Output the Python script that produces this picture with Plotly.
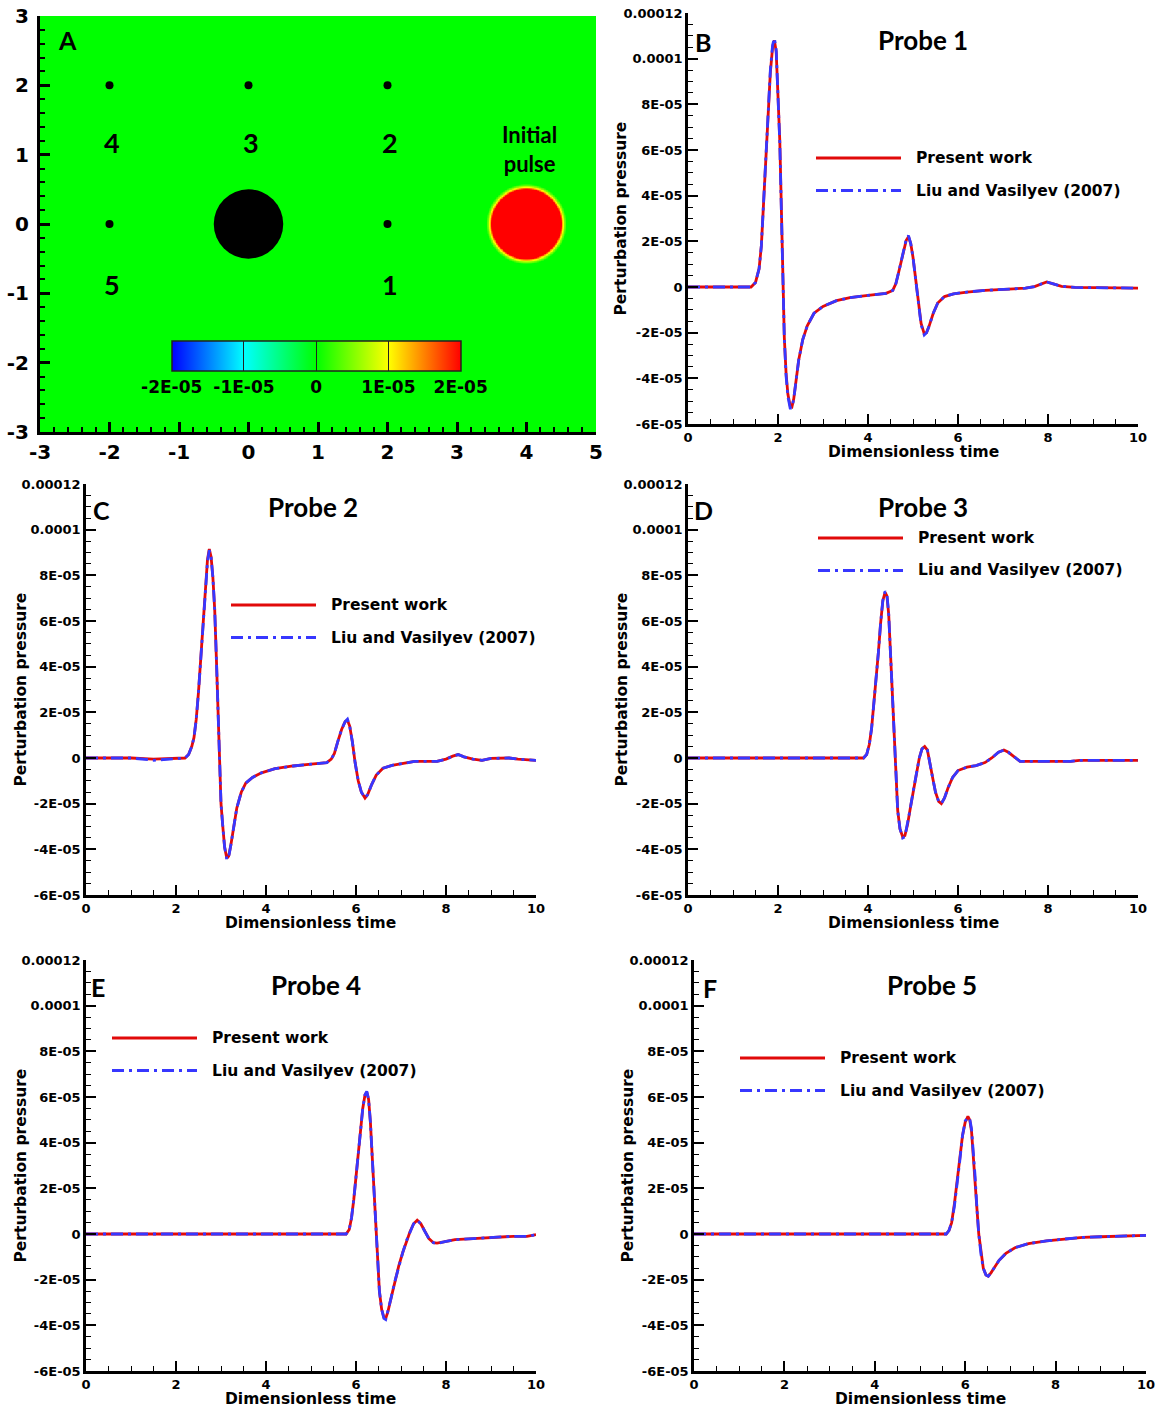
import numpy as np
import plotly.graph_objects as go

W, H = 1158, 1411

# ---------------- probe time histories (pressure in units of 1e-5) ----------------
P1_T = [0, 0.5, 1.0, 1.4, 1.5, 1.58, 1.63, 1.68, 1.73, 1.78, 1.83, 1.88, 1.92, 1.96, 2.0, 2.04,
        2.08, 2.11, 2.14, 2.18, 2.22, 2.27, 2.31, 2.35, 2.40, 2.46, 2.55, 2.65, 2.8, 3.0, 3.3,
        3.6, 4.0, 4.4, 4.55, 4.62, 4.7, 4.78, 4.85, 4.9, 4.95, 5.0, 5.06, 5.12, 5.18, 5.25, 5.3,
        5.36, 5.45, 5.55, 5.7, 5.9, 6.2, 6.6, 7.0, 7.5, 7.7, 7.85, 7.97, 8.1, 8.3, 8.6, 9.0, 10]
P1_PRESENT = [0, 0, -0.02, 0, 0.2, 0.8, 1.8, 3.6, 5.6, 7.6, 9.4, 10.5, 10.8, 10.3, 8.6, 6.4,
              3.0, 0, -2.2, -3.8, -4.7, -5.2, -5.25, -4.9, -4.1, -3.2, -2.3, -1.7, -1.15, -0.85, -0.6,
              -0.47, -0.37, -0.28, -0.15, 0.15, 0.8, 1.5, 2.05, 2.2, 1.9, 1.3, 0.3, -0.8, -1.6, -2.05, -2.0,
              -1.7, -1.15, -0.7, -0.42, -0.3, -0.22, -0.15, -0.1, -0.05, 0.02, 0.15, 0.22, 0.15, 0.03, -0.02, -0.03, -0.05]
P1_LIU = [0, 0, -0.03, 0, 0.2, 0.8, 1.8, 3.6, 5.7, 7.7, 9.5, 10.6, 10.9, 10.4, 8.6, 6.3,
          2.9, 0, -2.2, -3.9, -4.8, -5.3, -5.3, -4.9, -4.1, -3.2, -2.3, -1.7, -1.15, -0.85, -0.6,
          -0.47, -0.37, -0.28, -0.15, 0.15, 0.8, 1.5, 2.1, 2.25, 1.9, 1.3, 0.3, -0.8, -1.65, -2.1, -2.0,
          -1.7, -1.15, -0.7, -0.42, -0.3, -0.22, -0.15, -0.1, -0.05, 0.02, 0.15, 0.22, 0.15, 0.03, -0.02, -0.03, -0.05]

P2_T = [0, 1.0, 1.5, 2.0, 2.2, 2.28, 2.35, 2.4, 2.45, 2.5, 2.55, 2.6, 2.65, 2.7, 2.74, 2.78, 2.82,
        2.86, 2.9, 2.94, 2.97, 3.0, 3.04, 3.08, 3.13, 3.17, 3.22, 3.28, 3.35, 3.45, 3.55, 3.7, 3.9,
        4.2, 4.6, 5.0, 5.35, 5.45, 5.52, 5.6, 5.68, 5.76, 5.81, 5.86, 5.92, 5.98, 6.05, 6.12, 6.2,
        6.26, 6.35, 6.45, 6.6, 6.8, 7.0, 7.3, 7.8, 8.0, 8.15, 8.27, 8.4, 8.6, 8.8, 9.0, 9.4, 9.6, 10]
P2_PRESENT = [0, 0, -0.05, -0.03, 0, 0.15, 0.5, 0.9, 1.7, 2.9, 4.4, 5.9, 7.3, 8.7, 9.15, 8.8, 7.9,
              6.5, 4.2, 1.5, -0.5, -2.0, -3.0, -3.9, -4.4, -4.3, -3.8, -3.0, -2.2, -1.5, -1.1, -0.85, -0.65,
              -0.47, -0.35, -0.27, -0.2, -0.05, 0.2, 0.75, 1.25, 1.6, 1.65, 1.4, 0.7, -0.2, -1.0, -1.5, -1.75,
              -1.6, -1.15, -0.75, -0.45, -0.32, -0.25, -0.15, -0.15, -0.05, 0.08, 0.15, 0.05, -0.05, -0.1, -0.02, 0, -0.05, -0.1]
P2_LIU = [0, 0, -0.1, -0.05, 0, 0.15, 0.5, 0.9, 1.7, 2.9, 4.4, 5.9, 7.3, 8.6, 9.1, 8.8, 7.9,
          6.5, 4.2, 1.5, -0.5, -2.0, -3.0, -3.9, -4.45, -4.35, -3.8, -3.0, -2.2, -1.5, -1.1, -0.85, -0.65,
          -0.47, -0.35, -0.27, -0.2, -0.05, 0.2, 0.75, 1.25, 1.6, 1.7, 1.4, 0.7, -0.2, -1.0, -1.5, -1.75,
          -1.6, -1.15, -0.75, -0.45, -0.32, -0.25, -0.15, -0.15, -0.05, 0.08, 0.15, 0.05, -0.05, -0.1, -0.02, 0, -0.05, -0.1]

P3_T = [0, 3.0, 3.9, 3.97, 4.03, 4.08, 4.13, 4.18, 4.23, 4.28, 4.33, 4.38, 4.42, 4.46, 4.5, 4.54,
        4.58, 4.62, 4.66, 4.71, 4.77, 4.82, 4.88, 4.94, 5.0, 5.07, 5.14, 5.2, 5.26, 5.32, 5.38, 5.44,
        5.5, 5.57, 5.63, 5.7, 5.78, 5.88, 6.0, 6.2, 6.4, 6.6, 6.75, 6.9, 7.02, 7.12, 7.25, 7.38, 8.0,
        8.5, 8.7, 10]
P3_PRESENT = [0, 0, 0, 0.15, 0.6, 1.3, 2.3, 3.5, 4.6, 5.9, 6.9, 7.25, 7.1, 6.3, 4.6, 2.6,
              0.6, -1.2, -2.3, -3.1, -3.45, -3.4, -2.9, -2.2, -1.5, -0.7, 0.0, 0.4, 0.5, 0.35, -0.2, -0.9,
              -1.5, -1.9, -2.0, -1.75, -1.3, -0.85, -0.55, -0.4, -0.33, -0.2, 0.0, 0.25, 0.35, 0.25, 0.05, -0.15, -0.15,
              -0.15, -0.1, -0.1]
P3_LIU = [0, 0, 0, 0.15, 0.6, 1.3, 2.3, 3.5, 4.6, 5.9, 6.9, 7.3, 7.2, 6.3, 4.6, 2.6,
          0.6, -1.2, -2.3, -3.1, -3.5, -3.45, -2.9, -2.2, -1.5, -0.7, 0.0, 0.4, 0.5, 0.35, -0.2, -0.9,
          -1.5, -1.9, -2.0, -1.75, -1.3, -0.85, -0.55, -0.4, -0.33, -0.2, 0.0, 0.25, 0.35, 0.25, 0.05, -0.15, -0.15,
          -0.15, -0.1, -0.1]

P4_T = [0, 5.0, 5.78, 5.85, 5.9, 5.95, 6.0, 6.05, 6.1, 6.15, 6.2, 6.24, 6.28, 6.32, 6.36, 6.4,
        6.44, 6.48, 6.52, 6.57, 6.62, 6.66, 6.71, 6.78, 6.86, 6.95, 7.04, 7.12, 7.2, 7.28, 7.36, 7.44,
        7.52, 7.62, 7.72, 7.8, 7.95, 8.2, 8.6, 9.0, 9.5, 9.8, 10]
P4_PRESENT = [0, 0, 0, 0.2, 0.7, 1.5, 2.5, 3.5, 4.5, 5.5, 6.1, 6.2, 5.9, 4.9, 3.4, 1.9,
              0.3, -1.2, -2.5, -3.3, -3.65, -3.7, -3.4, -2.8, -2.1, -1.4, -0.8, -0.3, 0.1, 0.45, 0.6, 0.45,
              0.15, -0.2, -0.38, -0.4, -0.35, -0.25, -0.2, -0.15, -0.1, -0.1, -0.03]
P4_LIU = [0, 0, 0, 0.2, 0.7, 1.5, 2.5, 3.5, 4.5, 5.5, 6.1, 6.25, 5.9, 4.9, 3.4, 1.9,
          0.3, -1.2, -2.5, -3.3, -3.7, -3.75, -3.4, -2.8, -2.1, -1.4, -0.8, -0.3, 0.1, 0.45, 0.6, 0.45,
          0.15, -0.2, -0.38, -0.42, -0.35, -0.25, -0.2, -0.15, -0.1, -0.1, -0.03]

P5_T = [0, 5.0, 5.58, 5.64, 5.7, 5.76, 5.82, 5.88, 5.94, 6.0, 6.06, 6.1, 6.14, 6.18, 6.22, 6.26,
        6.3, 6.35, 6.4, 6.46, 6.51, 6.57, 6.65, 6.75, 6.9, 7.1, 7.4, 7.8, 8.2, 8.6, 9.0, 9.5, 10]
P5_PRESENT = [0, 0, 0, 0.15, 0.5, 1.3, 2.2, 3.3, 4.3, 4.9, 5.15, 5.0, 4.5, 3.5, 2.4, 1.1,
              0.0, -0.9, -1.5, -1.8, -1.85, -1.7, -1.45, -1.15, -0.85, -0.6, -0.42, -0.3, -0.22, -0.15, -0.12, -0.1, -0.06]
P5_LIU = [0, 0, 0, 0.15, 0.5, 1.2, 2.1, 3.2, 4.3, 4.95, 5.1, 5.05, 4.6, 3.7, 2.5, 1.1,
          0.0, -0.9, -1.5, -1.8, -1.85, -1.7, -1.45, -1.15, -0.85, -0.6, -0.42, -0.3, -0.22, -0.15, -0.12, -0.1, -0.06]

PRESSURE_UNIT = 1e-5
PROBES = [
    ("Probe 1", "B", P1_T, P1_PRESENT, P1_LIU),
    ("Probe 2", "C", P2_T, P2_PRESENT, P2_LIU),
    ("Probe 3", "D", P3_T, P3_PRESENT, P3_LIU),
    ("Probe 4", "E", P4_T, P4_PRESENT, P4_LIU),
    ("Probe 5", "F", P5_T, P5_PRESENT, P5_LIU),
]
SERIES_NAMES = ["Present work", "Liu and Vasilyev (2007)"]

Y_TICKVALS = [-6e-5, -4e-5, -2e-5, 0, 2e-5, 4e-5, 6e-5, 8e-5, 1e-4, 1.2e-4]
Y_TICKTEXT = ["-6E-05", "-4E-05", "-2E-05", "0", "2E-05", "4E-05", "6E-05", "8E-05", "0.0001", "0.00012"]
X_TICKVALS = [0, 2, 4, 6, 8, 10]

# ---------------- computational domain (panel A) ----------------
DOMAIN_X_TICKS = [-3, -2, -1, 0, 1, 2, 3, 4, 5]
DOMAIN_Y_TICKS = [-3, -2, -1, 0, 1, 2, 3]
PROBE_X = [2, 2, 0, -2, -2]
PROBE_Y = [0, 2, 2, 2, 0]
PROBE_LABELS = ["1", "2", "3", "4", "5"]
PROBE_LABEL_X = [2.04, 2.04, 0.03, -1.96, -1.96]
PROBE_LABEL_Y = [-0.87, 1.17, 1.17, 1.17, -0.87]
CYLINDER_CENTER = (0.0, 0.0)
CYLINDER_RADIUS = 0.5
PULSE_CENTER = (4.0, 0.0)
# radial pressure profile of the initial pulse
PULSE_R = [0.0, 0.47, 0.50, 0.52, 0.545, 0.58, 1.0]
PULSE_P = [2.6e-5, 2.4e-5, 2.0e-5, 1.3e-5, 0.6e-5, 0.0, 0.0]
CBAR_TICKVALS = [-2e-5, -1e-5, 0, 1e-5, 2e-5]
CBAR_TICKTEXT = ["-2E-05", "-1E-05", "0", "1E-05", "2E-05"]

RAINBOW = [[0.0, "rgb(0,0,255)"], [0.25, "rgb(0,255,255)"], [0.5, "rgb(0,255,0)"],
           [0.75, "rgb(255,255,0)"], [1.0, "rgb(255,0,0)"]]

RED = "rgb(225,10,10)"
BLUE = "rgb(55,55,255)"
DASHDOT = "12px,5px,3px,5px"
NUM_FONT = "DejaVu Sans"
LABEL_FONT = "Lato"


def fx(px):
    return px / W


def fy(py):
    return 1 - py / H


def note(x, y, text, size, family=NUM_FONT, xanchor="center", **kw):
    return dict(x=x, y=y, xref=kw.pop("xref", "paper"), yref=kw.pop("yref", "paper"), text=text,
                showarrow=False, xanchor=xanchor, yanchor="middle",
                font=dict(family=family, size=size, color="black", weight="bold"), **kw)


fig = go.Figure()

# ---- panel A: pressure field with cylinder, probes and initial pulse ----
fig.add_trace(go.Heatmap(
    x=[-3, 5], y=[-3, 3], z=[[0, 0], [0, 0]],
    colorscale=RAINBOW, zmin=-2e-5, zmax=2e-5, hoverinfo="skip",
    xaxis="x", yaxis="y",
    colorbar=dict(
        orientation="h", x=fx(316.2), xanchor="center", xref="paper",
        y=fy(340.7), yanchor="top", yref="paper",
        len=289, lenmode="pixels", thickness=30, thicknessmode="pixels",
        xpad=0, ypad=0, outlinecolor="#222222", outlinewidth=1.5,
        tickmode="array", tickvals=CBAR_TICKVALS, ticktext=CBAR_TICKTEXT,
        ticks="inside", ticklen=30, tickwidth=1, tickcolor="#222222",
        tickfont=dict(family=NUM_FONT, size=17, color="black", weight="bold"),
    ),
))

gx = np.round(np.arange(3.3, 4.7001, 0.01), 3)
gy = np.round(np.arange(-0.7, 0.7001, 0.01), 3)
GX, GY = np.meshgrid(gx, gy)
radius = np.hypot(GX - PULSE_CENTER[0], GY - PULSE_CENTER[1])
field = np.interp(radius, PULSE_R, PULSE_P)
fig.add_trace(go.Heatmap(
    x=gx, y=gy, z=field, colorscale=RAINBOW, zmin=-2e-5, zmax=2e-5,
    showscale=False, hoverinfo="skip", xaxis="x", yaxis="y",
))

fig.add_shape(type="circle", xref="x", yref="y",
              x0=CYLINDER_CENTER[0] - CYLINDER_RADIUS, x1=CYLINDER_CENTER[0] + CYLINDER_RADIUS,
              y0=CYLINDER_CENTER[1] - CYLINDER_RADIUS, y1=CYLINDER_CENTER[1] + CYLINDER_RADIUS,
              fillcolor="black", line=dict(width=0))

fig.add_trace(go.Scatter(
    x=PROBE_X, y=PROBE_Y, mode="markers", marker=dict(color="black", size=8),
    showlegend=False, hoverinfo="skip", xaxis="x", yaxis="y",
))

annotations = []
for lab, lx, ly in zip(PROBE_LABELS, PROBE_LABEL_X, PROBE_LABEL_Y):
    annotations.append(note(lx, ly, lab, 27, LABEL_FONT, xref="x", yref="y"))
annotations.append(note(PULSE_CENTER[0] + 0.05, 1.08, "Initial<br>pulse", 22, LABEL_FONT, xref="x", yref="y"))
annotations.append(note(fx(67), fy(40), "A", 25, LABEL_FONT))

layout = dict(
    width=W, height=H, margin=dict(l=0, r=0, t=0, b=0, pad=0, autoexpand=False),
    paper_bgcolor="white", plot_bgcolor="white", showlegend=False,
)

axis_a = dict(
    showline=True, linecolor="black", linewidth=3, zeroline=False, showgrid=False,
    ticks="inside", ticklen=10, tickwidth=2.5, tickcolor="black",
    minor=dict(tickmode="linear", tick0=-3, dtick=0.2, ticks="inside", ticklen=5, tickwidth=1.5, tickcolor="black"),
    tickfont=dict(family=NUM_FONT, size=20, color="black", weight="bold"),
)
layout["xaxis"] = dict(axis_a, domain=[fx(40), fx(596)], range=[-3, 5], anchor="y",
                       tickmode="array", tickvals=DOMAIN_X_TICKS, ticktext=[str(v) for v in DOMAIN_X_TICKS],
                       ticklabelstandoff=0)
layout["yaxis"] = dict(axis_a, domain=[fy(432), fy(16)], range=[-3, 3], anchor="x",
                       tickmode="array", tickvals=DOMAIN_Y_TICKS, ticktext=[str(v) for v in DOMAIN_Y_TICKS],
                       ticklabelstandoff=4)

# ---- panels B-F: probe histories ----
# plot-area boxes (left, right, top, bottom) in pixels
BOXES = [(688, 1138, 13, 424), (86, 536, 484, 895), (688, 1138, 484, 895),
         (86, 536, 960, 1371), (694, 1146, 960, 1371)]
# legend anchor (line start x, first row y) and title centre / letter position in pixels
LEGEND_POS = [(816, 158), (231, 605), (818, 538), (112, 1038), (740, 1058)]
TITLE_POS = [(923, 40), (313, 507), (923, 507), (316, 985), (932, 985)]
LETTER_POS = [(703, 42), (101, 510), (703, 510), (98, 987), (710, 988)]
YTITLE_X = [621, 20, 621, 20, 627]

minor_y = [v * 1e-6 for v in range(-60, 121, 5)]
minor_x = [v / 2 for v in range(0, 21)]

for i, (title, letter, t, present, liu) in enumerate(PROBES):
    k = i + 2
    xa, ya = f"x{k}", f"y{k}"
    left, right, top, bottom = BOXES[i]
    fig.add_trace(go.Scatter(
        x=t, y=np.array(present) * PRESSURE_UNIT, mode="lines", name=SERIES_NAMES[0],
        line=dict(color=RED, width=2.8), xaxis=xa, yaxis=ya, showlegend=False,
    ))
    fig.add_trace(go.Scatter(
        x=t, y=np.array(liu) * PRESSURE_UNIT, mode="lines", name=SERIES_NAMES[1],
        line=dict(color=BLUE, width=2.8, dash=DASHDOT), xaxis=xa, yaxis=ya, showlegend=False,
    ))
    tick_font = dict(family=NUM_FONT, size=13, color="black", weight="bold")
    layout[f"xaxis{k}"] = dict(
        domain=[fx(left), fx(right)], range=[0, 10], anchor=ya,
        showline=True, linecolor="black", linewidth=2.5, zeroline=False, showgrid=False,
        tickmode="array", tickvals=X_TICKVALS, ticks="inside", ticklen=10, tickwidth=2, tickcolor="black",
        minor=dict(tickmode="array", tickvals=minor_x, ticks="inside", ticklen=5, tickwidth=1.3, tickcolor="black"),
        tickfont=tick_font,
    )
    layout[f"yaxis{k}"] = dict(
        domain=[fy(bottom), fy(top)], range=[-6e-5, 1.2e-4], anchor=xa,
        showline=True, linecolor="black", linewidth=2.5, zeroline=False, showgrid=False,
        tickmode="array", tickvals=Y_TICKVALS, ticktext=Y_TICKTEXT,
        ticks="inside", ticklen=10, tickwidth=2, tickcolor="black",
        minor=dict(tickmode="array", tickvals=minor_y, ticks="inside", ticklen=5, tickwidth=1.3, tickcolor="black"),
        tickfont=tick_font,
    )
    # axis titles
    annotations.append(note(fx((left + right) / 2), fy(bottom + 28), "Dimensionless time", 15.5))
    annotations.append(note(fx(YTITLE_X[i]), fy((top + bottom) / 2), "Perturbation pressure", 15.5,
                            textangle=-90))
    # panel title and letter
    tx, ty = TITLE_POS[i]
    annotations.append(note(fx(tx), fy(ty), title, 26, LABEL_FONT))
    lx, ly = LETTER_POS[i]
    annotations.append(note(fx(lx), fy(ly), letter, 25, LABEL_FONT))
    # legend entries
    gx0, gy0 = LEGEND_POS[i]
    for row, (name, color, dash) in enumerate(zip(SERIES_NAMES, [RED, BLUE], ["solid", DASHDOT])):
        yy = gy0 + row * 32.5
        fig.add_shape(type="line", xref="paper", yref="paper",
                      x0=fx(gx0), x1=fx(gx0 + 85), y0=fy(yy), y1=fy(yy),
                      line=dict(color=color, width=2.8, dash=dash))
        annotations.append(note(fx(gx0 + 98), fy(yy), name, 15.5, xanchor="left"))

layout["annotations"] = annotations
fig.update_layout(**layout)
fig.write_html("out.html")
